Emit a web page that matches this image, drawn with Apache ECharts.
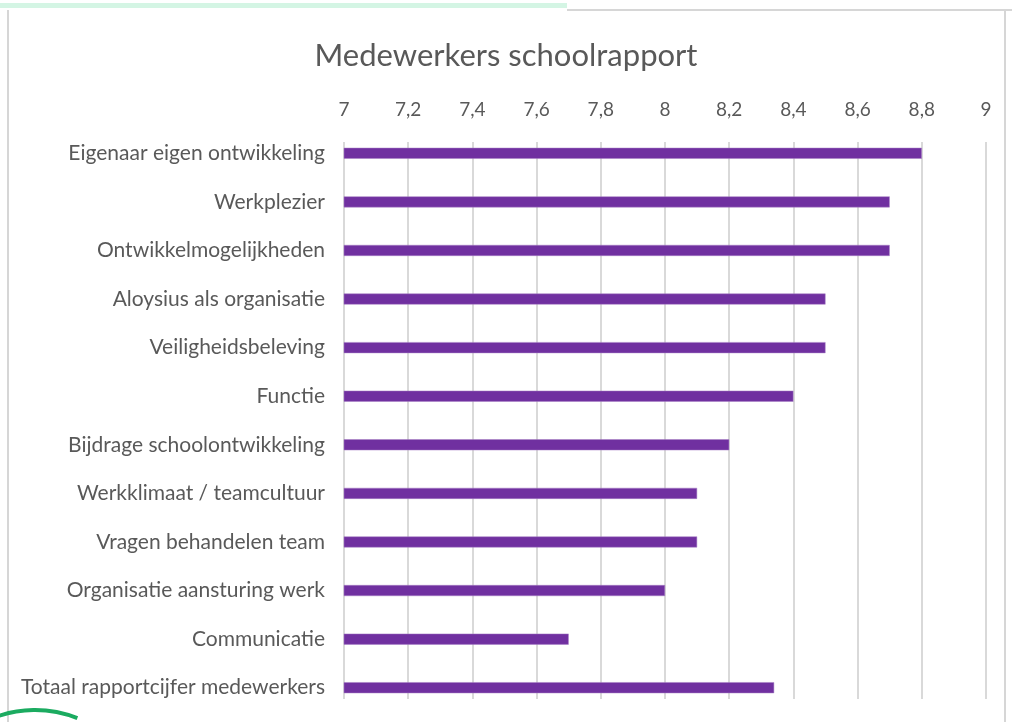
<!DOCTYPE html>
<html>
<head>
<meta charset="utf-8">
<script src="https://cdn.jsdelivr.net/npm/echarts@6/dist/echarts.min.js"></script>
<style>
  html, body { margin: 0; padding: 0; background: #fff; }
  #main { width: 1012px; height: 722px; }
</style>
</head>
<body>
<div id="main"></div>
<script type="text/javascript">
// data
var categories = ['Eigenaar eigen ontwikkeling', 'Werkplezier', 'Ontwikkelmogelijkheden',
    'Aloysius als organisatie', 'Veiligheidsbeleving', 'Functie', 'Bijdrage schoolontwikkeling',
    'Werkklimaat / teamcultuur', 'Vragen behandelen team', 'Organisatie aansturing werk',
    'Communicatie', 'Totaal rapportcijfer medewerkers'];
var scores = [8.8, 8.7, 8.7, 8.5, 8.5, 8.4, 8.2, 8.1, 8.1, 8.0, 7.7, 8.34];
var axisMin = 7, axisMax = 9, axisStep = 0.2;

var font = 'Lato, "Open Sans", sans-serif';
var grey = '#595959';

var myChart = echarts.init(document.getElementById('main'));
var option = {
    backgroundColor: '#fff',
    animation: false,
    title: {
        text: 'Medewerkers schoolrapport',
        left: 'center',
        top: 35,
        textStyle: {fontFamily: font, fontSize: 31, fontWeight: 'normal', color: grey}
    },
    // grid 0 holds the bars, grid 1 the gridlines and tick labels
    grid: [
        {left: 344, right: 26, top: 129, bottom: 10},
        {left: 344, right: 26, top: 142, bottom: 23}
    ],
    xAxis: [
        {gridIndex: 0, type: 'value', min: axisMin, max: axisMax, show: false},
        {
            gridIndex: 1, type: 'value', position: 'top',
            min: axisMin, max: axisMax, interval: axisStep,
            axisLine: {show: false},
            axisTick: {show: false},
            axisLabel: {
                margin: 23, color: grey, fontFamily: font, fontSize: 19,
                formatter: function (v) { return String(Math.round(v * 10) / 10).replace('.', ','); }
            },
            splitLine: {lineStyle: {color: '#d9d9d9', width: 2}}
        }
    ],
    yAxis: [
        {
            gridIndex: 0, type: 'category', data: categories, inverse: true,
            axisLine: {show: false},
            axisTick: {show: false},
            axisLabel: {margin: 19, color: grey, fontFamily: font, fontSize: 21}
        },
        {gridIndex: 1, type: 'value', show: false}
    ],
    series: [{
        type: 'bar',
        xAxisIndex: 0,
        yAxisIndex: 0,
        data: scores,
        barWidth: 11,
        itemStyle: {color: '#7030a0', borderColor: '#a77fc4', borderWidth: 0.5}
    }],
    graphic: [
        {type: 'rect', shape: {x: 0, y: 3, width: 567, height: 5}, style: {fill: '#d4f5e4'}},
        {type: 'line', shape: {x1: 567, y1: 10, x2: 1012, y2: 10}, style: {stroke: '#d6d6d6', lineWidth: 2}},
        {type: 'line', shape: {x1: 8, y1: 10, x2: 8, y2: 722}, style: {stroke: '#d6d6d6', lineWidth: 2}},
        {type: 'line', shape: {x1: 1005, y1: 10, x2: 1005, y2: 722}, style: {stroke: '#d6d6d6', lineWidth: 2}},
        {type: 'arc', shape: {cx: 35, cy: 824, r: 114, startAngle: -1.98, endAngle: -1.19},
            style: {stroke: '#1bab60', lineWidth: 4, fill: null}}
    ]
};
myChart.setOption(option);
</script>
</body>
</html>
